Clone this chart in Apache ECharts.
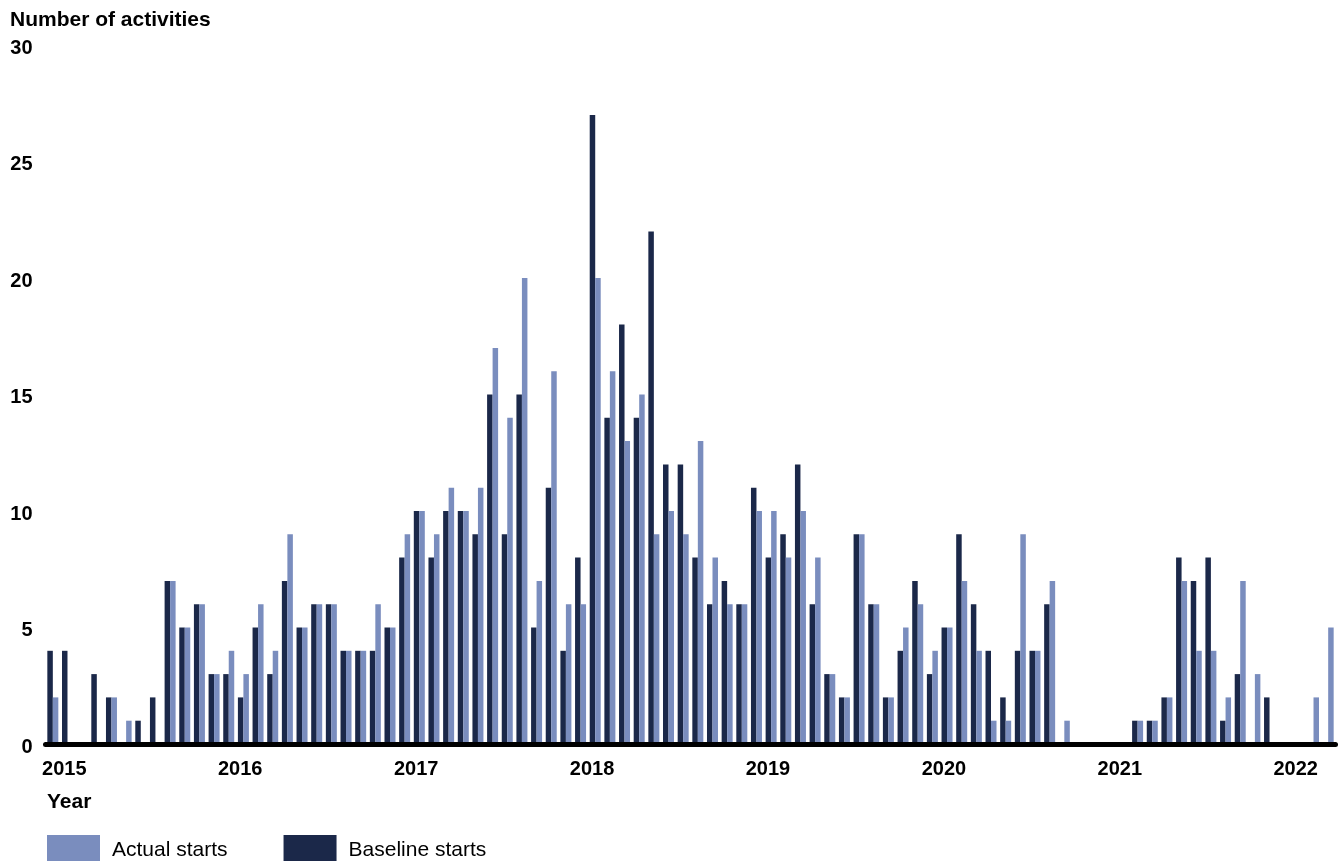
<!DOCTYPE html>
<html>
<head>
<meta charset="utf-8">
<script src="https://cdn.jsdelivr.net/npm/echarts@6/dist/echarts.min.js"></script>
<style>
  html, body { margin: 0; padding: 0; background: #ffffff; }
  #chart { width: 1340px; height: 861px; }
</style>
</head>
<body>
<div id="chart"></div>
<script>
// ---- Data (monthly, Jan 2015 – Apr 2022) ----
const yearLabels = ['2015', '2016', '2017', '2018', '2019', '2020', '2021', '2022'];
const monthNames = ['Jan', 'Feb', 'Mar', 'Apr', 'May', 'Jun', 'Jul', 'Aug', 'Sep', 'Oct', 'Nov', 'Dec'];
const monthCount = 88;
const categories = yearLabels.flatMap(y => monthNames.map(m => m + ' ' + y)).slice(0, monthCount);

const baselineStarts = [
  4, 4, 0, 3, 2, 0, 1, 2, 7, 5, 6, 3,          // 2015
  3, 2, 5, 3, 7, 5, 6, 6, 4, 4, 4, 5,          // 2016
  8, 10, 8, 10, 10, 9, 15, 9, 15, 5, 11, 4,    // 2017
  8, 27, 14, 18, 14, 22, 12, 12, 8, 6, 7, 6,   // 2018
  11, 8, 9, 12, 6, 3, 2, 9, 6, 2, 4, 7,        // 2019
  3, 5, 9, 6, 4, 2, 4, 4, 6, 0, 0, 0,          // 2020
  0, 0, 1, 1, 2, 8, 7, 8, 1, 3, 0, 2,          // 2021
  0, 0, 0, 0                                   // 2022
];
const actualStarts = [
  2, 0, 0, 0, 2, 1, 0, 0, 7, 5, 6, 3,          // 2015
  4, 3, 6, 4, 9, 5, 6, 6, 4, 4, 6, 5,          // 2016
  9, 10, 9, 11, 10, 11, 17, 14, 20, 7, 16, 6,  // 2017
  6, 20, 16, 13, 15, 9, 10, 9, 13, 8, 6, 6,    // 2018
  10, 10, 8, 10, 8, 3, 2, 9, 6, 2, 5, 6,       // 2019
  4, 5, 7, 4, 1, 1, 9, 4, 7, 1, 0, 0,          // 2020
  0, 0, 1, 1, 2, 7, 4, 4, 2, 7, 3, 0,          // 2021
  0, 0, 2, 5                                   // 2022
];
const yTicks = [0, 5, 10, 15, 20, 25, 30];

const FONT = '"Liberation Sans", Arial, sans-serif';
const DARK = '#1b2849';
const LIGHT = '#7a8dbe';

const chart = echarts.init(document.getElementById('chart'), null, { renderer: 'canvas' });
chart.setOption({
  animation: false,
  backgroundColor: '#ffffff',
  textStyle: { fontFamily: FONT, color: '#000000' },
  title: [
    { text: 'Number of activities', left: 10, top: 10, padding: 0,
      textStyle: { fontFamily: FONT, fontSize: 21, fontWeight: 'bold', color: '#000' } },
    { text: 'Year', left: 47, top: 792, padding: 0,
      textStyle: { fontFamily: FONT, fontSize: 21, fontWeight: 'bold', color: '#000' } }
  ],
  legend: {
    data: ['Actual starts', 'Baseline starts'],
    left: 47, top: 835, padding: 0,
    icon: 'rect',
    itemWidth: 53, itemHeight: 26,
    itemGap: 56,
    formatter: '{t|{name}}',
    textStyle: {
      fontFamily: FONT, fontSize: 21, color: '#000',
      rich: { t: { fontFamily: FONT, fontSize: 21, color: '#000', padding: [4, 0, 0, 7] } }
    }
  },
  grid: { left: 45.5, right: 4.5, top: 45, bottom: 117, containLabel: false },
  xAxis: {
    type: 'category',
    data: categories,
    boundaryGap: true,
    z: 10,
    axisLine: { show: true, lineStyle: { color: '#000', width: 5 } },
    axisTick: { show: false },
    splitLine: { show: false },
    axisLabel: {
      interval: (idx) => idx % 12 === 0,
      formatter: (v) => v.split(' ')[1],
      fontFamily: FONT, fontSize: 20, fontWeight: 'bold', color: '#000',
      margin: 15,
      padding: [0, 0, 0, 23],
      hideOverlap: false
    }
  },
  yAxis: {
    type: 'value',
    min: yTicks[0], max: yTicks[yTicks.length - 1], interval: 5,
    axisLine: { show: false },
    axisTick: { show: false },
    splitLine: { show: false },
    axisLabel: {
      margin: 13,
      formatter: '{v|{value}}',
      rich: { v: { fontFamily: FONT, fontSize: 20, fontWeight: 'bold', color: '#000', padding: [6, 0, 0, 0] } }
    }
  },
  series: [
    { name: 'Baseline starts', type: 'bar', data: baselineStarts, barWidth: 5.5, barGap: '0%',
      itemStyle: { color: DARK } },
    { name: 'Actual starts', type: 'bar', data: actualStarts, barWidth: 5.5, barGap: '0%',
      itemStyle: { color: LIGHT } }
  ]
});
</script>
</body>
</html>
